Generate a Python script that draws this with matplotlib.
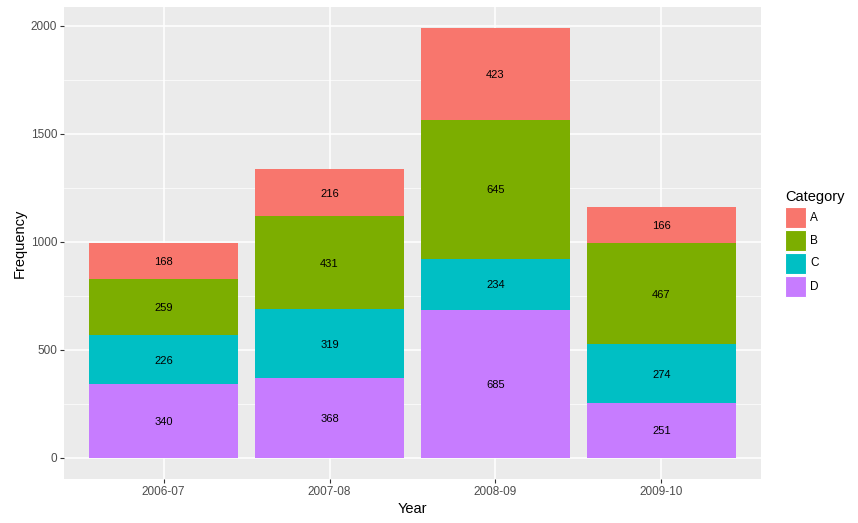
import numpy as np
import matplotlib.pyplot as plt
from matplotlib.patches import Rectangle

# data
years = ["2006-07", "2007-08", "2008-09", "2009-10"]
categories = ["A", "B", "C", "D"]
# stacked bottom -> top: D, C, B, A
D = [340, 368, 685, 251]
C = [226, 319, 234, 274]
B = [259, 431, 645, 467]
A = [168, 216, 423, 166]
colors = {"A": "#F8766D", "B": "#7CAE00", "C": "#00BFC4", "D": "#C77CFF"}

plt.rcParams['font.family'] = ['Liberation Sans', 'DejaVu Sans']

fig = plt.figure(figsize=(8.58, 5.23), dpi=100)
ax = fig.add_axes([64/858, 44/523, 697/858, 472/523])
ax.set_facecolor("#EBEBEB")

x = np.arange(len(years))
series = {"D": D, "C": C, "B": B, "A": A}
bottom = np.zeros(len(years))
for name, vals in series.items():
    vals = np.array(vals)
    ax.bar(x, vals, width=0.9, bottom=bottom, color=colors[name], zorder=3)
    for xi, b, v in zip(x, bottom, vals):
        ax.text(xi, b + v / 2, str(v), ha="center", va="center_baseline",
                fontsize=8, color="black", zorder=4)
    bottom += vals

total_max = bottom.max()
ax.set_ylim(-0.05 * total_max, 1.05 * total_max)
ax.set_xlim(-0.6, len(years) - 0.4)

ax.set_yticks([0, 500, 1000, 1500, 2000])
ax.set_yticks([250, 750, 1250, 1750], minor=True)
ax.set_xticks(x)
ax.set_xticklabels(years)
ax.grid(which="major", color="white", linewidth=1.1, zorder=0)
ax.grid(which="minor", axis="y", color="white", linewidth=0.5, zorder=0)
ax.set_axisbelow(True)
for s in ax.spines.values():
    s.set_visible(False)
ax.tick_params(which="major", length=3, color="#333333", labelcolor="#4D4D4D",
               labelsize=8.5, pad=2)
ax.tick_params(which="minor", length=0)

ax.set_xlabel("Year", fontsize=10.5, labelpad=3)
ax.set_ylabel("Frequency", fontsize=10.5, labelpad=3)

# legend drawn by hand, ggplot style
fig.text(785/858, 1 - 197/523, "Category", fontsize=10.5, ha="left", va="center")
key_w, key_h = 21, 21
for i, name in enumerate(categories):
    top = 207 + i * 23
    fig.patches.append(Rectangle((785/858, 1 - (top + key_h)/523), key_w/858, key_h/523,
                                 transform=fig.transFigure, facecolor=colors[name],
                                 edgecolor="white", linewidth=0.8))
    fig.text(810/858, 1 - (top + key_h/2)/523, name, fontsize=8.5,
             ha="left", va="center")

fig.savefig("out.png", dpi=100)
